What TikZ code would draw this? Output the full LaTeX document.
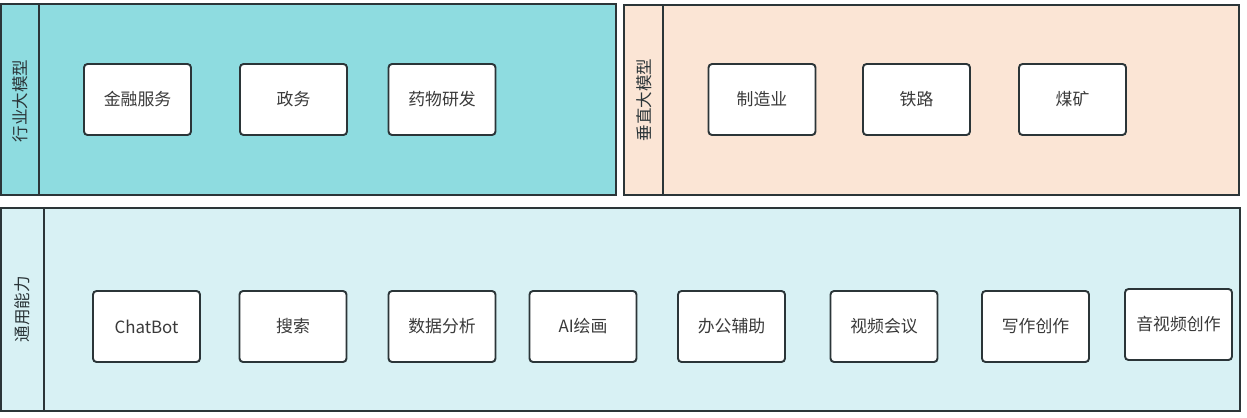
\documentclass[tikz,border=0pt]{standalone}
\usepackage{fontspec}
\setmainfont{Noto Sans CJK SC}
\begin{document}
\begin{tikzpicture}[x=0.02cm,y=-0.02cm,line width=0.9pt,
  item/.style={draw=edge,fill=white,rounded corners=2pt,line width=1.1pt,
    minimum width=2.14cm,minimum height=1.42cm,inner sep=0pt,
    font=\fontsize{9.6}{11}\selectfont,text=textgray},
  panel/.style={draw=edge,line width=1.1pt},
  tag/.style={rotate=90,font=\fontsize{9.4}{11}\selectfont,text=edge}]
  \definecolor{edge}{HTML}{2B3538}
  \definecolor{textgray}{HTML}{3A3A3A}
  \definecolor{industry}{HTML}{8EDCE0}
  \definecolor{vertical}{HTML}{FBE5D5}
  \definecolor{general}{HTML}{D8F1F4}
  \useasboundingbox (0,0) rectangle (1247,417);
  \fill[white] (0,0) rectangle (1247,417);

  % industry models
  \draw[panel,fill=industry] (1,4) rectangle (616,195);
  \draw[panel] (39,4) -- (39,195);
  \node[tag] (industryTag) at (20,101) {行业大模型};
  \node[item] (finance) at (137.5,99.5) {金融服务};
  \node[item] (govern) at (293.5,99.5) {政务};
  \node[item] (pharma) at (442,99.5) {药物研发};

  % vertical models
  \draw[panel,fill=vertical] (624,5) rectangle (1239,195);
  \draw[panel] (663,5) -- (663,195);
  \node[tag] (verticalTag) at (644,100) {垂直大模型};
  \node[item] (manufact) at (762,99.5) {制造业};
  \node[item] (railway) at (916.5,99.5) {铁路};
  \node[item] (coalmine) at (1072.5,99.5) {煤矿};

  % general abilities
  \draw[panel,fill=general] (1,208) rectangle (1240,411);
  \draw[panel] (44,208) -- (44,411);
  \node[tag] (generalTag) at (22,309) {通用能力};
  \node[item] (chatbot) at (146.5,326.5) {ChatBot};
  \node[item] (search) at (293,326.5) {搜索};
  \node[item] (analysis) at (442,326.5) {数据分析};
  \node[item] (aipaint) at (583,326.5) {AI绘画};
  \node[item] (office) at (731.5,326.5) {办公辅助};
  \node[item] (meeting) at (884,326.5) {视频会议};
  \node[item] (writing) at (1035.5,326.5) {写作创作};
  \node[item] (avcreate) at (1178.5,324.5) {音视频创作};
\end{tikzpicture}
\end{document}
